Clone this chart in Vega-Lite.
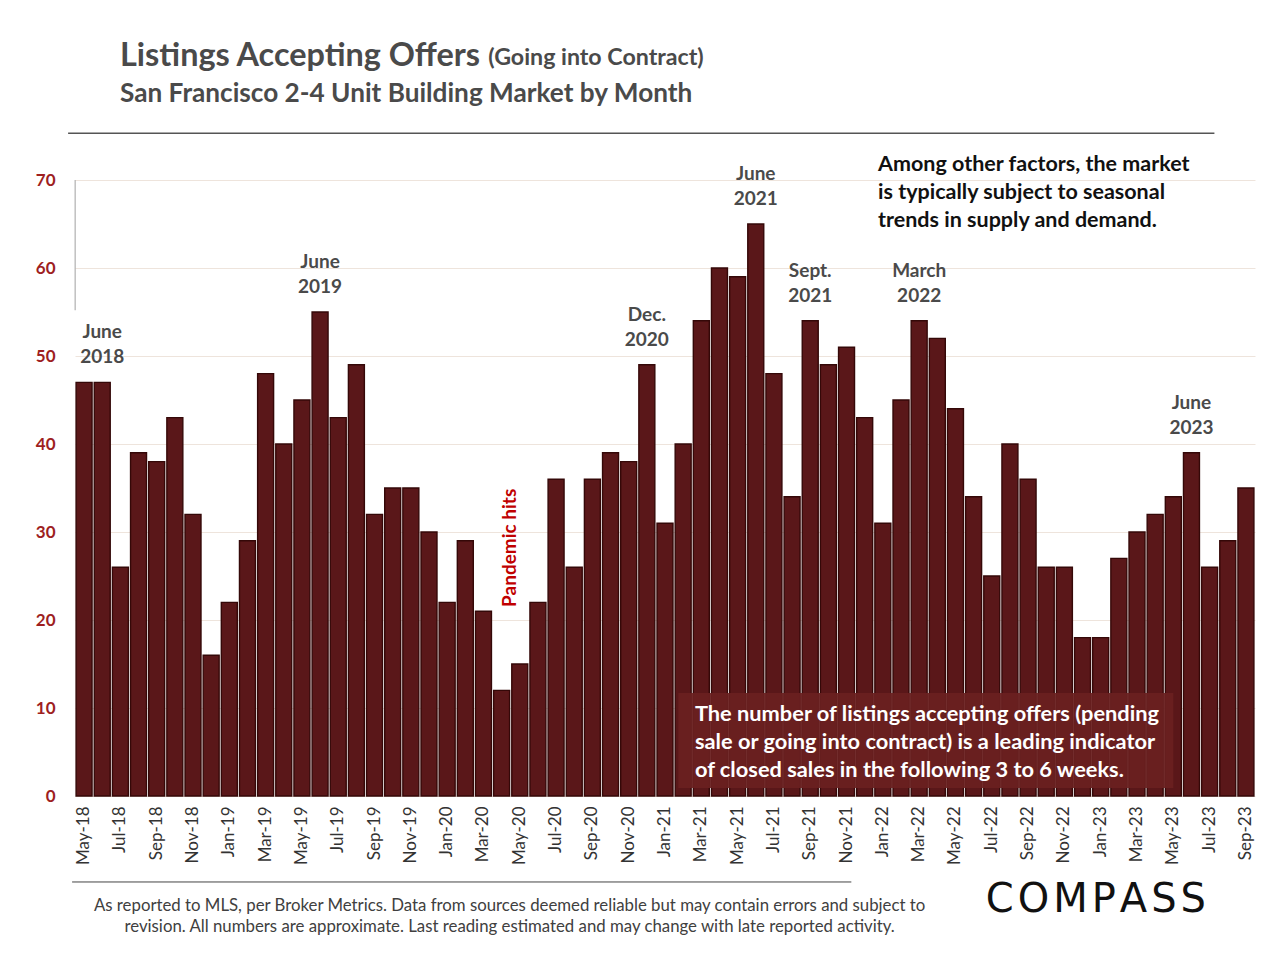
{
  "$schema": "https://vega.github.io/schema/vega-lite/v6.json",
  "width": 1180,
  "height": 616,
  "autosize": {"type": "none"},
  "padding": {"left": 75, "top": 180, "right": 25, "bottom": 164},
  "background": "white",
  "config": {"view": {"stroke": null}, "font": "Lato"},
  "title": {
    "text": "Listings Accepting Offers",
    "subtitle": "San Francisco 2-4 Unit Building Market by Month",
    "anchor": "start",
    "frame": "group",
    "dx": 45,
    "offset": -61,
    "font": "Lato",
    "fontSize": 32.4,
    "fontWeight": "bold",
    "color": "#4a4a4a",
    "subtitleFont": "Lato",
    "subtitleFontSize": 26.2,
    "subtitleFontWeight": "bold",
    "subtitleColor": "#4a4a4a",
    "subtitlePadding": 9
  },
  "data": {
    "values": [
      {"month": "May-18", "offers": 47},
      {"month": "Jun-18", "offers": 47, "note": "June|2018"},
      {"month": "Jul-18", "offers": 26},
      {"month": "Aug-18", "offers": 39},
      {"month": "Sep-18", "offers": 38},
      {"month": "Oct-18", "offers": 43},
      {"month": "Nov-18", "offers": 32},
      {"month": "Dec-18", "offers": 16},
      {"month": "Jan-19", "offers": 22},
      {"month": "Feb-19", "offers": 29},
      {"month": "Mar-19", "offers": 48},
      {"month": "Apr-19", "offers": 40},
      {"month": "May-19", "offers": 45},
      {"month": "Jun-19", "offers": 55, "note": "June|2019"},
      {"month": "Jul-19", "offers": 43},
      {"month": "Aug-19", "offers": 49},
      {"month": "Sep-19", "offers": 32},
      {"month": "Oct-19", "offers": 35},
      {"month": "Nov-19", "offers": 35},
      {"month": "Dec-19", "offers": 30},
      {"month": "Jan-20", "offers": 22},
      {"month": "Feb-20", "offers": 29},
      {"month": "Mar-20", "offers": 21},
      {"month": "Apr-20", "offers": 12},
      {"month": "May-20", "offers": 15},
      {"month": "Jun-20", "offers": 22},
      {"month": "Jul-20", "offers": 36},
      {"month": "Aug-20", "offers": 26},
      {"month": "Sep-20", "offers": 36},
      {"month": "Oct-20", "offers": 39},
      {"month": "Nov-20", "offers": 38},
      {"month": "Dec-20", "offers": 49, "note": "Dec.|2020"},
      {"month": "Jan-21", "offers": 31},
      {"month": "Feb-21", "offers": 40},
      {"month": "Mar-21", "offers": 54},
      {"month": "Apr-21", "offers": 60},
      {"month": "May-21", "offers": 59},
      {"month": "Jun-21", "offers": 65, "note": "June|2021"},
      {"month": "Jul-21", "offers": 48},
      {"month": "Aug-21", "offers": 34},
      {"month": "Sep-21", "offers": 54, "note": "Sept.|2021"},
      {"month": "Oct-21", "offers": 49},
      {"month": "Nov-21", "offers": 51},
      {"month": "Dec-21", "offers": 43},
      {"month": "Jan-22", "offers": 31},
      {"month": "Feb-22", "offers": 45},
      {"month": "Mar-22", "offers": 54, "note": "March|2022"},
      {"month": "Apr-22", "offers": 52},
      {"month": "May-22", "offers": 44},
      {"month": "Jun-22", "offers": 34},
      {"month": "Jul-22", "offers": 25},
      {"month": "Aug-22", "offers": 40},
      {"month": "Sep-22", "offers": 36},
      {"month": "Oct-22", "offers": 26},
      {"month": "Nov-22", "offers": 26},
      {"month": "Dec-22", "offers": 18},
      {"month": "Jan-23", "offers": 18},
      {"month": "Feb-23", "offers": 27},
      {"month": "Mar-23", "offers": 30},
      {"month": "Apr-23", "offers": 32},
      {"month": "May-23", "offers": 34},
      {"month": "Jun-23", "offers": 39, "note": "June|2023"},
      {"month": "Jul-23", "offers": 26},
      {"month": "Aug-23", "offers": 29},
      {"month": "Sep-23", "offers": 35}
    ]
  },
  "layer": [
    {
      "mark": {"type": "bar", "fill": "#5A1719", "stroke": "#340808", "strokeWidth": 1.4},
      "encoding": {
        "x": {
          "field": "month",
          "type": "nominal",
          "sort": null,
          "title": null,
          "scale": {"paddingInner": 0.12, "paddingOuter": 0.06},
          "axis": {
            "labelAngle": -90,
            "labelExpr": "indexof('MayJulSepNovJanMar', slice(datum.label,0,3)) >= 0 ? datum.label : ''",
            "labelOverlap": false,
            "labelFontSize": 17,
            "labelColor": "#333333",
            "labelFont": "Lato",
            "labelPadding": 10,
            "ticks": false,
            "domain": false
          }
        },
        "y": {
          "field": "offers",
          "type": "quantitative",
          "title": null,
          "scale": {"domain": [0, 70], "nice": false},
          "axis": {
            "values": [0, 10, 20, 30, 40, 50, 60, 70],
            "grid": true,
            "gridColor": "#EEE4DC",
            "gridWidth": 1,
            "domain": false,
            "ticks": false,
            "labelColor": "#9E1F1F",
            "labelFontSize": 17,
            "labelFontWeight": "bold",
            "labelPadding": 20
          }
        }
      }
    },
    {
      "data": {"values": [{}]},
      "mark": {"type": "rule", "color": "#A0A0A0", "strokeWidth": 1},
      "encoding": {
        "x": {"datum": "May-18", "bandPosition": -0.06, "title": null},
        "y": {"datum": 70, "type": "quantitative", "title": null},
        "y2": {"datum": 55.2}
      }
    },
    {
      "transform": [{"filter": "isValid(datum.note)"}],
      "mark": {"type": "text", "baseline": "bottom", "align": "center", "dy": -40, "lineBreak": "|", "lineHeight": 25, "fontSize": 19, "fontWeight": "bold", "color": "#4a4a4a"},
      "encoding": {
        "x": {"field": "month", "type": "nominal", "sort": null, "title": null},
        "y": {"field": "offers", "type": "quantitative", "title": null},
        "text": {"field": "note"}
      }
    },
    {
      "data": {"values": [{"t": "(Going into Contract)"}]},
      "mark": {"type": "text", "align": "left", "baseline": "alphabetic", "fontSize": 23.2, "fontWeight": "bold", "color": "#4a4a4a"},
      "encoding": {
        "x": {"datum": "Mar-20", "bandPosition": 0.8, "title": null},
        "y": {"datum": 83.05, "type": "quantitative", "title": null},
        "text": {"field": "t"}
      }
    },
    {
      "data": {"values": [{}]},
      "mark": {"type": "rule", "color": "#555555", "strokeWidth": 1.5},
      "encoding": {
        "x": {"datum": "May-18", "bandPosition": -0.5, "title": null},
        "x2": {"datum": "Jul-23", "bandPosition": 0.8},
        "y": {"datum": 75.3, "type": "quantitative", "title": null}
      }
    },
    {
      "data": {"values": [{}]},
      "mark": {"type": "rule", "color": "#444444", "strokeWidth": 1},
      "encoding": {
        "x": {"datum": "May-18", "bandPosition": -0.25, "title": null},
        "x2": {"datum": "Nov-21", "bandPosition": 0.8},
        "y": {"datum": -9.77, "type": "quantitative", "title": null}
      }
    },
    {
      "data": {"values": [{"t": "Pandemic hits"}]},
      "mark": {"type": "text", "angle": 270, "align": "center", "baseline": "middle", "fontSize": 19, "fontWeight": "bold", "color": "#C00000"},
      "encoding": {
        "x": {"datum": "Apr-20", "bandPosition": 1, "title": null},
        "y": {"datum": 28.2, "type": "quantitative", "title": null},
        "text": {"field": "t"}
      }
    },
    {
      "data": {"values": [{}]},
      "mark": {"type": "rect", "color": "#6A2020", "opacity": 0.93},
      "encoding": {
        "x": {"datum": "Feb-21", "bandPosition": 0.2, "title": null},
        "x2": {"datum": "May-23", "bandPosition": 0.5},
        "y": {"datum": 0.9, "type": "quantitative", "title": null},
        "y2": {"datum": 11.7}
      }
    },
    {
      "data": {"values": [{"t": "The number of listings accepting offers (pending|sale or going into contract) is a leading indicator|of closed sales in the following 3 to 6 weeks."}]},
      "mark": {"type": "text", "align": "left", "baseline": "middle", "lineBreak": "|", "lineHeight": 28, "fontSize": 21.8, "fontWeight": "bold", "color": "white"},
      "encoding": {
        "x": {"datum": "Mar-21", "bandPosition": 0.1, "title": null},
        "y": {"datum": 9.32, "type": "quantitative", "title": null},
        "text": {"field": "t"}
      }
    },
    {
      "data": {"values": [{"t": "Among other factors, the market|is typically subject to seasonal|trends in supply and demand."}]},
      "mark": {"type": "text", "align": "left", "baseline": "middle", "lineBreak": "|", "lineHeight": 28, "fontSize": 21.5, "fontWeight": "bold", "color": "#111111"},
      "encoding": {
        "x": {"datum": "Jan-22", "bandPosition": 0.2, "title": null},
        "y": {"datum": 71.7, "type": "quantitative", "title": null},
        "text": {"field": "t"}
      }
    },
    {
      "data": {"values": [{"t": "As reported to MLS, per Broker Metrics. Data from sources deemed reliable but may contain errors and subject to|revision. All numbers are approximate.  Last reading estimated and may change with late reported activity."}]},
      "mark": {"type": "text", "align": "center", "baseline": "middle", "lineBreak": "|", "lineHeight": 21, "fontSize": 16.8, "color": "#404040"},
      "encoding": {
        "x": {"datum": "Apr-20", "bandPosition": 1, "title": null},
        "y": {"datum": -12.5, "type": "quantitative", "title": null},
        "text": {"field": "t"}
      }
    },
    {
      "data": {"values": [{"t": "C\u200aO\u200aM\u200aP\u200aA\u200aS\u200aS"}]},
      "mark": {"type": "text", "align": "center", "baseline": "middle", "fontSize": 40, "font": "DejaVu Sans", "color": "#111111"},
      "encoding": {
        "x": {"datum": "Jan-23", "bandPosition": 0.2, "title": null},
        "y": {"datum": -11.8, "type": "quantitative", "title": null},
        "text": {"field": "t"}
      }
    }
  ]
}
